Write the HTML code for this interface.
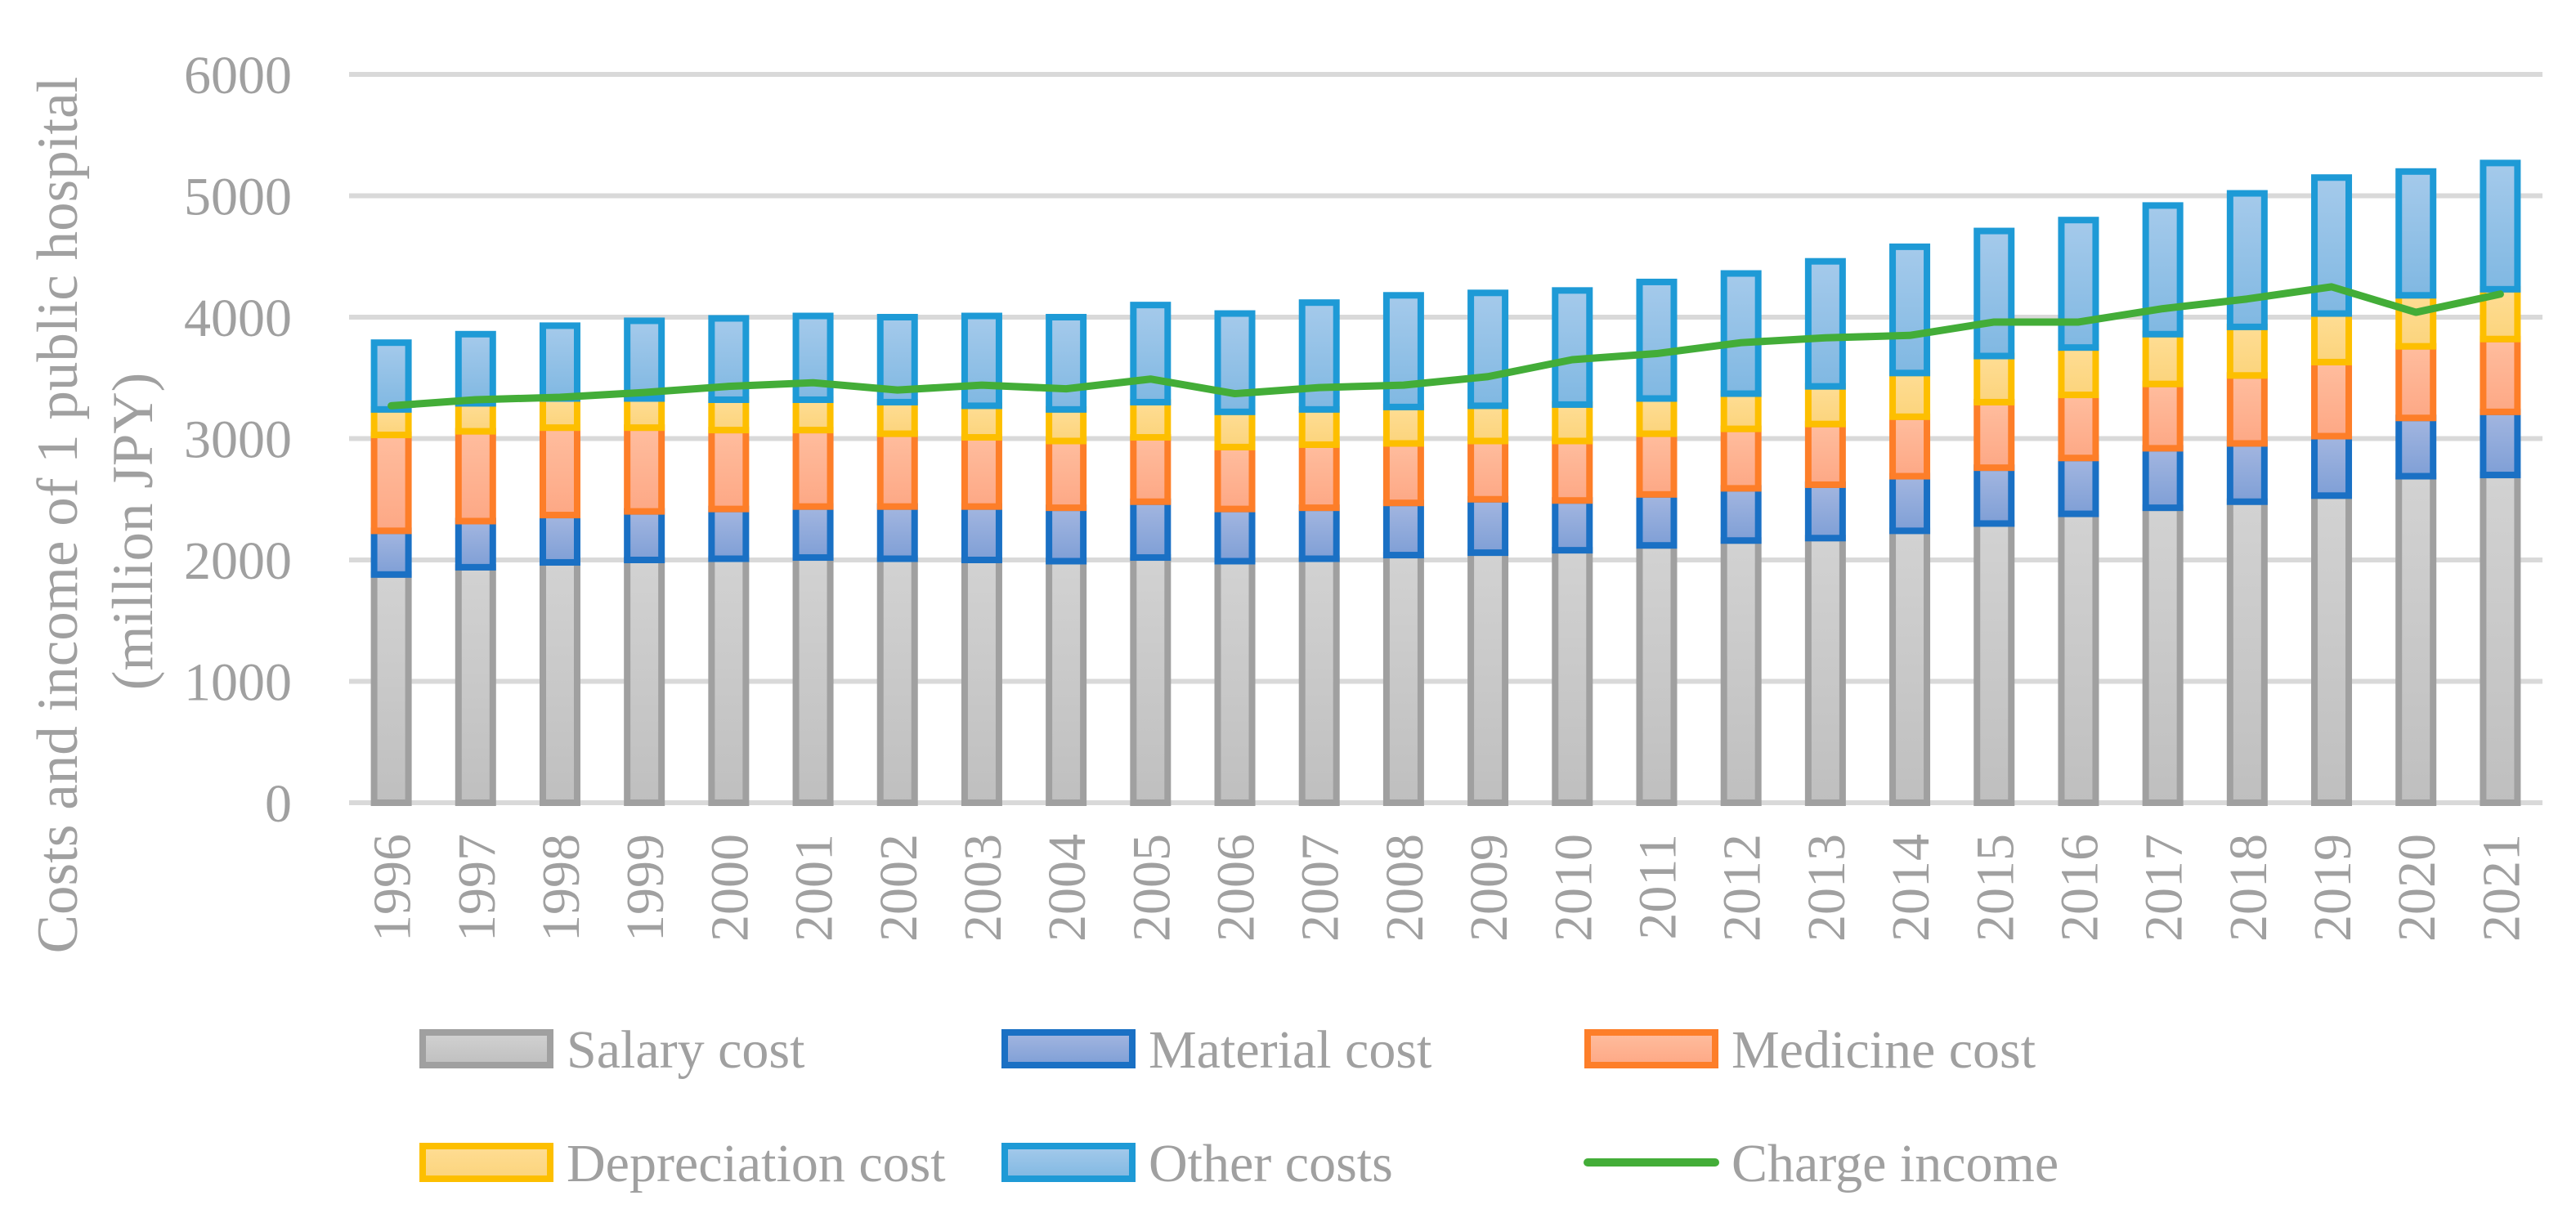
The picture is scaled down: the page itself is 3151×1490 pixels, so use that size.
<!DOCTYPE html>
<html><head><meta charset="utf-8"><style>
html,body{margin:0;padding:0;background:#fff}
svg{display:block}
text{font-family:"Liberation Serif",serif;fill:#a0a0a0}
</style></head><body>
<svg id="chart" width="3151" height="1490" viewBox="0 0 3151 1490">
<defs>
<linearGradient id="gS" x1="0" y1="0" x2="0" y2="1"><stop offset="0" stop-color="#d2d2d2"/><stop offset="1" stop-color="#bfbfbf"/></linearGradient>
<linearGradient id="gM" x1="0" y1="0" x2="0" y2="1"><stop offset="0" stop-color="#a3b6e0"/><stop offset="1" stop-color="#7f9fd6"/></linearGradient>
<linearGradient id="gD" x1="0" y1="0" x2="0" y2="1"><stop offset="0" stop-color="#ffbd9e"/><stop offset="1" stop-color="#fda885"/></linearGradient>
<linearGradient id="gP" x1="0" y1="0" x2="0" y2="1"><stop offset="0" stop-color="#fedd94"/><stop offset="1" stop-color="#fcd47c"/></linearGradient>
<linearGradient id="gO" x1="0" y1="0" x2="0" y2="1"><stop offset="0" stop-color="#a5caeb"/><stop offset="1" stop-color="#80b8e2"/></linearGradient>
</defs>
<g id="grid"></g>
<g id="ylabels"></g>
<g id="bars"></g>
<g id="line"></g>
<g id="xlabels"></g>
<g>
<text transform="translate(94,630) rotate(-90)" text-anchor="middle" font-size="71">Costs and income of 1 public  hospital</text>
<text transform="translate(186,650) rotate(-90)" text-anchor="middle" font-size="71">(million JPY)</text>
</g>
<g id="legend"></g>
</svg>
<script>
const years = ["1996","1997","1998","1999","2000","2001","2002","2003","2004","2005","2006","2007","2008","2009","2010","2011","2012","2013","2014","2015","2016","2017","2018","2019","2020","2021"];
const salary = [1880,1940,1980,2000,2010,2020,2010,2000,1990,2020,1990,2010,2040,2060,2080,2120,2160,2180,2240,2300,2380,2430,2480,2530,2690,2700];
const material = [360,380,390,400,410,420,430,440,440,460,430,420,430,440,410,420,430,440,450,460,460,490,480,490,480,520];
const medicine = [790,740,720,690,650,630,600,570,550,530,510,520,490,480,490,500,490,500,490,540,520,530,560,610,590,600];
const depreciation = [210,230,240,240,250,250,260,260,260,290,290,290,300,290,300,290,290,310,360,380,390,410,400,400,420,410];
const other = [550,570,600,640,670,690,700,740,760,800,810,880,920,930,940,960,990,1030,1040,1030,1050,1060,1100,1120,1020,1040];
const charge = [3270,3320,3340,3380,3430,3460,3400,3440,3410,3490,3370,3420,3440,3510,3650,3700,3790,3830,3850,3960,3960,4070,4150,4250,4040,4190];
const yTicks = [0,1000,2000,3000,4000,5000,6000];

const NS="http://www.w3.org/2000/svg";
const L=427,R=3110,Y0=982,Y6=91;
const y=v=>Y0-(Y0-Y6)*v/6000;
const band=(R-L)/years.length;
const x=i=>L+(i+0.5)*band;
function mk(tag,attrs,parent){const e=document.createElementNS(NS,tag);for(const k in attrs)e.setAttribute(k,attrs[k]);parent.appendChild(e);return e;}
const grid=document.getElementById('grid'),yl=document.getElementById('ylabels');
yTicks.forEach(t=>{
  const g=mk('line',{x1:L,x2:R,y1:y(t),y2:y(t),stroke:'#d9d9d9','stroke-width':6},grid);
  
  
  const tx=mk('text',{x:357,y:y(t)+23,'text-anchor':'end','font-size':66},yl);
  tx.textContent=t;
  
  
});
const series=[[salary,'url(#gS)','#a0a0a0','salary'],[material,'url(#gM)','#1a70c4','material'],[medicine,'url(#gD)','#fd7e29','medicine'],[depreciation,'url(#gP)','#fdbf00','depreciation'],[other,'url(#gO)','#1e9ad6','other']];
const bars=document.getElementById('bars');
const bw=42;
years.forEach((yr,i)=>{
  let base=0;
  series.forEach(([arr,fill,stroke,nm])=>{
    const top=base+arr[i];
    const r=mk('rect',{x:x(i)-bw/2,y:y(top),width:bw,height:y(base)-y(top),fill:fill,stroke:stroke,'stroke-width':8},bars);
    
    
    base=top;
  });
  const t=mk('text',{transform:`translate(${x(i)+23},1020) rotate(-90)`,'text-anchor':'end','font-size':66},document.getElementById('xlabels'));
  t.textContent=yr;
  
  
});
const pl=mk('polyline',{points:charge.map((v,i)=>x(i)+','+y(v)).join(' '),fill:'none',stroke:'#43ad38','stroke-width':9,'stroke-linejoin':'round','stroke-linecap':'round'},document.getElementById('line'));


const leg=document.getElementById('legend');
const items=[['Salary cost','url(#gS)','#a0a0a0',513,1283],['Material cost','url(#gM)','#1a70c4',1225,1283],['Medicine cost','url(#gD)','#fd7e29',1938,1283],['Depreciation cost','url(#gP)','#fdbf00',513,1422],['Other costs','url(#gO)','#1e9ad6',1225,1422],['Charge income',null,'#43ad38',1938,1422]];
items.forEach(([lab,fill,stroke,lx,ly])=>{
  const g=mk('g',{},leg);
  
  
  if(fill){mk('rect',{x:lx+4,y:ly-20,width:156,height:40,fill:fill,stroke:stroke,'stroke-width':8},g);}
  else{mk('line',{x1:lx+4,x2:lx+160,y1:ly,y2:ly,stroke:stroke,'stroke-width':10,'stroke-linecap':'round'},g);}
  const t=mk('text',{x:lx+180,y:ly+23,'font-size':66},g);
  t.textContent=lab;
});
</script>
</body></html>
